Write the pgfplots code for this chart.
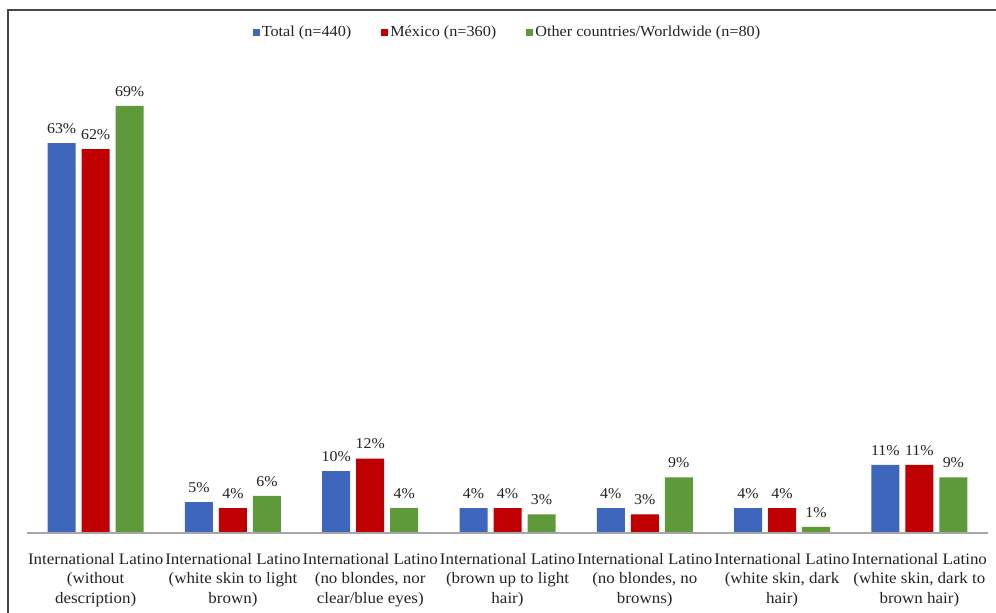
\documentclass[border=0pt]{standalone}
\usepackage{fontspec}
\setmainfont{Liberation Serif}[FakeStretch=1.06]
\usepackage{pgfplots}
\pgfplotsset{compat=1.18}

\definecolor{cBlue}{RGB}{61,102,188}
\definecolor{cRed}{RGB}{192,0,0}
\definecolor{cGreen}{RGB}{94,154,58}
\definecolor{frameGray}{RGB}{70,70,70}
\definecolor{txt}{RGB}{35,35,35}

\begin{document}
\begin{tikzpicture}[x=1pt,y=1pt]
\useasboundingbox (-27,-80) rectangle (969,533);
\draw[line width=1.5pt, frameGray] (-19,-80) -- (-19,523) -- (969,523);
\begin{axis}[
    scale only axis,
    width=961pt, height=513.8pt,
    xmin=-0.5, xmax=6.5,
    ymin=0, ymax=83,
    ybar=6pt, bar width=28pt,
    axis line style={draw=none},
    ytick=\empty,
    xtick={0,1,2,3,4,5,6},
    major tick length=0pt,
    xticklabels={
        {International Latino\\(without\\description)},
        {International Latino\\(white skin to light\\brown)},
        {International Latino\\(no blondes, nor\\clear/blue eyes)},
        {International Latino\\(brown up to light\\hair)},
        {International Latino\\(no blondes, no\\browns)},
        {International Latino\\(white skin, dark\\hair)},
        {International Latino\\(white skin, dark to\\brown hair)}},
    x tick label style={font=\fontsize{16}{19.3}\selectfont, align=center, text=txt, yshift=-17pt},
    nodes near coords={\pgfmathprintnumber{\pgfplotspointmeta}\%},
    every node near coord/.append style={font=\fontsize{15}{18}\selectfont, text=txt, yshift=6pt},
    /pgf/number format/assume math mode=true,
    clip=false,
    legend columns=3,
    legend style={at={(0.5,0.995)}, anchor=north, draw=none, fill=none,
        font=\fontsize{15.3}{18}\selectfont, text=txt,
        /tikz/every even column/.append style={column sep=28pt}},
    legend image code/.code={\fill[#1] (0pt,-3.5pt) rectangle (7pt,3.5pt);},
]
\addplot[fill=cBlue, draw=none] coordinates {(0,63) (1,5) (2,10) (3,4) (4,4) (5,4) (6,11)};
\addlegendentry{Total (n=440)}
\addplot[fill=cRed, draw=none] coordinates {(0,62) (1,4) (2,12) (3,4) (4,3) (5,4) (6,11)};
\addlegendentry{México (n=360)}
\addplot[fill=cGreen, draw=none] coordinates {(0,69) (1,6) (2,4) (3,3) (4,9) (5,1) (6,9)};
\addlegendentry{Other countries/Worldwide (n=80)}
\draw[gray!70, line width=1.2pt] (rel axis cs:0,0) -- (rel axis cs:1,0);
\end{axis}
\end{tikzpicture}
\end{document}
